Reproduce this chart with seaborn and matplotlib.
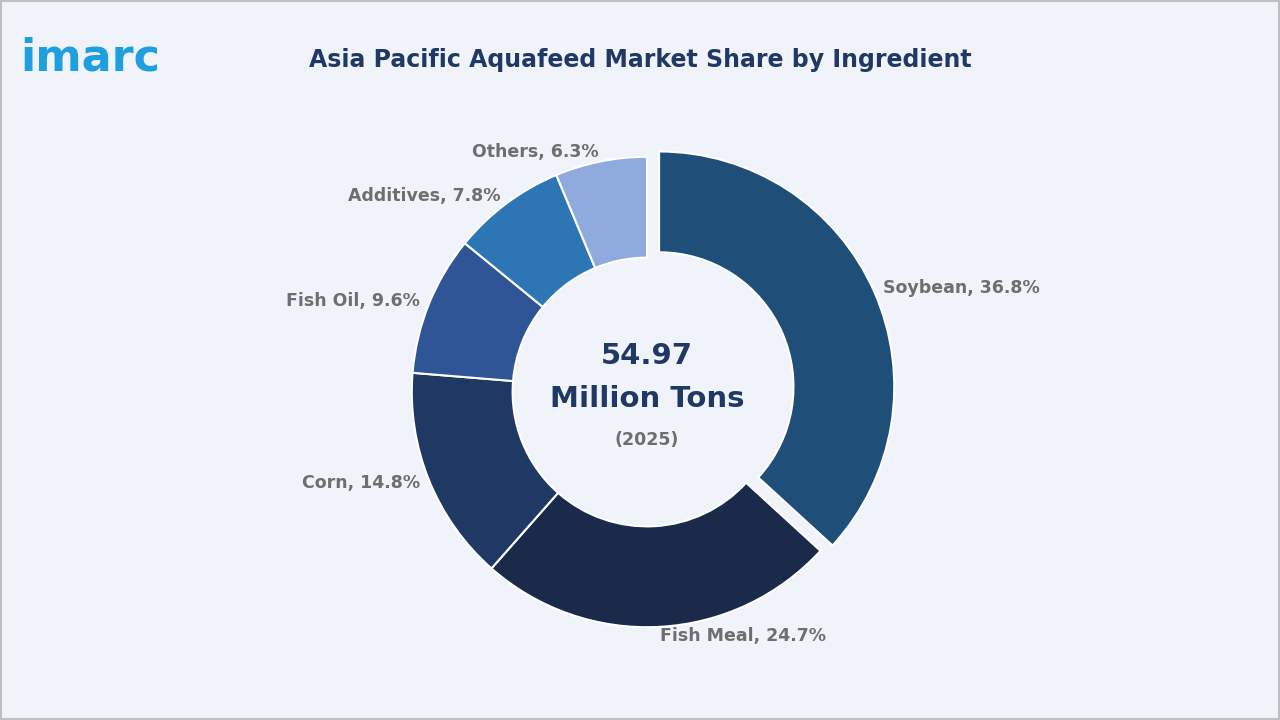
import matplotlib
matplotlib.use("Agg")
import matplotlib.pyplot as plt
import seaborn as sns
from matplotlib.patches import Rectangle

sns.set_theme(style="white")
plt.rcParams['font.family'] = ['DejaVu Sans']

categories = ["Soybean", "Fish Meal", "Corn", "Fish Oil", "Additives", "Others"]
shares = [36.8, 24.7, 14.8, 9.6, 7.8, 6.3]
colors = ["#1f4e79", "#1b2a4a", "#203864", "#2f5597", "#2e75b6", "#8faadc"]
labels = [f"{c}, {v}%" for c, v in zip(categories, shares)]

bg = "#f0f3f9"
fig = plt.figure(figsize=(12.8, 7.2), dpi=100, facecolor=bg)
fig.patches.append(Rectangle((0.001, 0.001), 0.998, 0.998, transform=fig.transFigure,
                             fill=False, edgecolor="#bfbfbf", linewidth=1.5))

ax = fig.add_axes([347/1280, 28/720, 600/1280, 600/720])
ax.set_facecolor(bg)
wedges, texts = ax.pie(shares, labels=labels, colors=colors, startangle=90, counterclock=False,
                       explode=[0.055, 0, 0, 0, 0, 0], labeldistance=1.04, radius=0.98,
                       wedgeprops=dict(width=0.42, edgecolor="white", linewidth=1.5),
                       textprops=dict(color="#6e6e6e", fontsize=12.5, fontweight="bold"))
ax.set_xlim(-1.25, 1.25)
ax.set_ylim(-1.25, 1.25)
ax.set_aspect("equal")
ax.axis("off")

navy = "#1f3864"
ax.text(0, 0.15, "54.97", ha="center", va="center", fontsize=21, fontweight="bold", color=navy)
ax.text(0, -0.03, "Million Tons", ha="center", va="center", fontsize=21, fontweight="bold", color=navy)
ax.text(0, -0.2, "(2025)", ha="center", va="center", fontsize=12.5, fontweight="bold", color="#6e6e6e")

fig.text(640/1280, 1-60/720, "Asia Pacific Aquafeed Market Share by Ingredient", ha="center", va="center",
         fontsize=17, fontweight="bold", color=navy)
fig.text(20/1280, 1-58/720, "imarc", ha="left", va="center", fontsize=32, fontweight="bold", color="#1ea0e0")

fig.savefig("out.png", dpi=100, facecolor=bg)
